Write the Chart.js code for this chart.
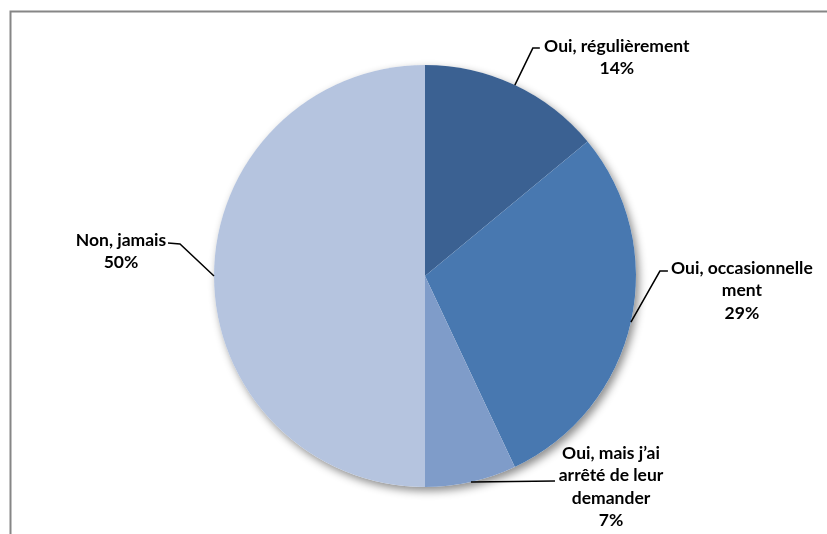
<!DOCTYPE html>
<html>
<head>
<meta charset="utf-8">
<script src="https://cdn.jsdelivr.net/npm/chart.js@4/dist/chart.umd.min.js"></script>
<style>
  html, body { margin: 0; padding: 0; background: #fff; }
  #wrap { width: 827px; height: 534px; }
</style>
</head>
<body>
<div id="wrap"><canvas id="pieChart" width="827" height="534"></canvas></div>
<script>
// data
const categories = ["Oui, régulièrement", "Oui, occasionnellement", "Oui, mais j’ai arrêté de leur demander", "Non, jamais"];
const values = [14, 29, 7, 50];
const labelLines = [
    ["Oui, régulièrement"],
    ["Oui, occasionnelle", "ment"],
    ["Oui, mais j’ai", "arrêté de leur", "demander"],
    ["Non, jamais"]
];
const colors = ["#3b6192", "#4878b0", "#7f9cc9", "#b5c4df"];

// leader line / label placement, relative to the slice anchor point
const labelPos = [
    { elbow: [18, -37], tail: [25, -37], text: [102, -39] },
    { elbow: [29, -51], tail: [37, -51], text: [111, -54] },
    { elbow: [0, 0], tail: [84, -1], text: [140, -29] },
    { elbow: [-34, -32], tail: [-46, -33], text: [-93, -36] }
];

const frameAndShadow = {
    id: "frameAndShadow",
    beforeDatasetsDraw(chart) {
        const arc = chart.getDatasetMeta(0).data[0];
        if (!arc) return;
        const c = chart.ctx;
        c.save();
        c.shadowColor = "rgba(0,0,0,0.45)";
        c.shadowBlur = 9;
        c.shadowOffsetX = 3;
        c.shadowOffsetY = 4;
        c.fillStyle = "#ffffff";
        c.beginPath();
        c.arc(arc.x, arc.y, arc.outerRadius, 0, Math.PI * 2);
        c.fill();
        c.restore();
    },
    afterDraw(chart) {
        const c = chart.ctx;
        c.save();
        c.strokeStyle = "#868686";
        c.lineWidth = 2;
        c.beginPath();
        c.moveTo(10.5, 534);
        c.lineTo(10.5, 11.5);
        c.lineTo(827, 11.5);
        c.stroke();
        c.restore();
    }
};

const outsideLabels = {
    id: "outsideLabels",
    afterDatasetsDraw(chart) {
        const c = chart.ctx;
        const total = values.reduce((a, b) => a + b, 0);
        chart.getDatasetMeta(0).data.forEach((arc, i) => {
            const mid = (arc.startAngle + arc.endAngle) / 2;
            const ax = arc.x + Math.cos(mid) * arc.outerRadius;
            const ay = arc.y + Math.sin(mid) * arc.outerRadius;
            const p = labelPos[i];
            c.save();
            c.strokeStyle = "#000";
            c.lineWidth = 1.5;
            c.beginPath();
            c.moveTo(ax, ay);
            c.lineTo(ax + p.elbow[0], ay + p.elbow[1]);
            c.lineTo(ax + p.tail[0], ay + p.tail[1]);
            c.stroke();

            c.fillStyle = "#000";
            c.font = "bold 17.5px Lato, 'Open Sans', sans-serif";
            c.textAlign = "center";
            c.textBaseline = "middle";
            const lines = labelLines[i].concat([Math.round(values[i] / total * 100) + "%"]);
            lines.forEach((t, k) => {
                c.fillText(t, ax + p.text[0], ay + p.text[1] + k * 22.5);
            });
            c.restore();
        });
    }
};

new Chart(document.getElementById("pieChart"), {
    type: "pie",
    data: {
        labels: categories,
        datasets: [{
            data: values,
            backgroundColor: colors,
            borderWidth: 0
        }]
    },
    options: {
        responsive: false,
        animation: false,
        layout: { padding: { top: 65, bottom: 47, left: 214, right: 191 } },
        plugins: {
            legend: { display: false },
            tooltip: { enabled: false }
        }
    },
    plugins: [frameAndShadow, outsideLabels]
});
</script>
</body>
</html>
